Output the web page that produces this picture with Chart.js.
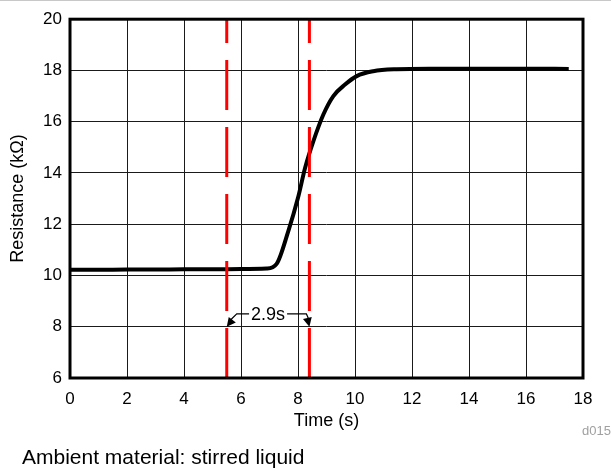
<!DOCTYPE html>
<html>
<head>
<meta charset="utf-8">
<title>Resistance vs time</title>
<script src="https://cdn.jsdelivr.net/npm/chart.js@4.4.0/dist/chart.umd.min.js"></script>
<style>
    body{
        margin: 0;
        background-color: #ffffff;
        font-family: "Liberation Sans", Arial, sans-serif;
    }
    #wrap{
        position: relative;
        width: 611px;
        height: 471px;
        border-top: 1px solid #c8c8c8;
        box-sizing: border-box;
    }
    #myChart1{
        position: absolute;
        left: 0;
        top: 0;
    }
    #caption{
        position: absolute;
        left: 22px;
        top: 444px;
        font-size: 21px;
        line-height: 24px;
        color: #000;
    }
    #figid{
        position: absolute;
        left: 582px;
        top: 422px;
        font-size: 13px;
        line-height: 16px;
        color: #a0a0a0;
    }
</style>
</head>
<body>
<div id="wrap">
    <canvas id="myChart1" width="611" height="470"></canvas>
    <div id="figid">d015</div>
    <div id="caption">Ambient material: stirred liquid</div>
</div>

<script>
    // sensor response
    const timeSec = [0, 1, 2, 3, 4, 5, 6, 6.9, 7.25, 7.66, 8.0, 8.25, 8.54, 8.89, 9.24, 9.65, 10.06, 10.64, 11.46, 12.6, 14, 16, 17.5]
    const resistance = [10.22, 10.22, 10.23, 10.23, 10.24, 10.24, 10.25, 10.27, 10.45, 11.73, 13.03, 14.2, 15.24, 16.28, 17.0, 17.45, 17.78, 17.97, 18.05, 18.07, 18.07, 18.07, 18.06]

    // red markers and the response time between them
    const markerTimes = [5.5, 8.4]
    const markerLabel = '2.9s'
    const markerLevel = 8.5
    const arrowTipLevel = 8

    const xTicks = [0, 2, 4, 6, 8, 10, 12, 14, 16, 18]
    const yTicks = [6, 8, 10, 12, 14, 16, 18, 20]

    const FONT = '"Liberation Sans", Arial, sans-serif'

    const curvePoints = timeSec.map(function(t, i){ return {x: t, y: resistance[i]} })

    function markerLine(t){
        return {
            data: [{x: t, y: yTicks[0]}, {x: t, y: yTicks[yTicks.length - 1]}],
            borderColor: '#ff0000',
            borderWidth: 3,
            borderDash: [50, 17],
            pointRadius: 0,
            fill: false
        }
    }

    function arrowHead(ctx, fromX, fromY, toX, toY){
        const ang = Math.atan2(toY - fromY, toX - fromX)
        const len = 9, half = 4.5
        ctx.beginPath()
        ctx.moveTo(toX, toY)
        ctx.lineTo(toX - len * Math.cos(ang) + half * Math.sin(ang), toY - len * Math.sin(ang) - half * Math.cos(ang))
        ctx.lineTo(toX - len * Math.cos(ang) - half * Math.sin(ang), toY - len * Math.sin(ang) + half * Math.cos(ang))
        ctx.closePath()
        ctx.fill()
    }

    const frameAndNote = {
        id: 'frameAndNote',
        afterDatasetsDraw(chart){
            const ctx = chart.ctx
            const a = chart.chartArea
            const xs = chart.scales.x, ys = chart.scales.y

            // response-time annotation
            const xl = xs.getPixelForValue(markerTimes[0])
            const xr = xs.getPixelForValue(markerTimes[1])
            const yb = ys.getPixelForValue(markerLevel)
            const yt = ys.getPixelForValue(arrowTipLevel)
            const xm = (xl + xr) / 2

            ctx.save()
            ctx.font = '18px ' + FONT
            const w = ctx.measureText(markerLabel).width
            ctx.fillStyle = '#ffffff'
            ctx.fillRect(xm - w / 2 - 2, yb - 10, w + 4, 20)
            ctx.fillStyle = '#000000'
            ctx.textAlign = 'center'
            ctx.textBaseline = 'middle'
            ctx.fillText(markerLabel, xm, yb + 1)

            ctx.strokeStyle = '#000000'
            ctx.lineWidth = 1.2
            ctx.beginPath()
            ctx.moveTo(xm - w / 2 - 2, yb)
            ctx.lineTo(xl + 10, yb)
            ctx.lineTo(xl + 3, yt - 6)
            ctx.moveTo(xm + w / 2 + 2, yb)
            ctx.lineTo(xr - 3, yb)
            ctx.lineTo(xr, yt - 6)
            ctx.stroke()
            arrowHead(ctx, xl + 10, yb, xl, yt)
            arrowHead(ctx, xr - 3, yb, xr, yt)

            // heavy frame round the plot
            ctx.lineWidth = 3
            ctx.strokeRect(a.left, a.top, a.right - a.left, a.bottom - a.top)
            ctx.restore()
        }
    }

    const ctx1 = document.getElementById('myChart1').getContext('2d')
    const mychart = new Chart(ctx1, {
        type: 'line',
        data: {
            datasets: [
                markerLine(markerTimes[0]),
                markerLine(markerTimes[1]),
                {
                    data: curvePoints,
                    borderColor: '#000000',
                    borderWidth: 4,
                    pointRadius: 0,
                    cubicInterpolationMode: 'monotone',
                    fill: false
                }
            ]
        },
        options: {
            responsive: false,
            animation: false,
            layout: {
                padding: {left: 0, top: 17, right: 28, bottom: 33}
            },
            plugins: {
                legend: {display: false},
                tooltip: {enabled: false}
            },
            scales: {
                x: {
                    type: 'linear',
                    min: xTicks[0],
                    max: xTicks[xTicks.length - 1],
                    afterBuildTicks: function(scale){ scale.ticks = xTicks.map(function(v){ return {value: v} }) },
                    afterFit: function(scale){ scale.height = 60 },
                    grid: {color: '#1a1a1a', lineWidth: 1, drawTicks: false},
                    border: {display: false},
                    ticks: {color: '#000', padding: 11, font: {family: FONT, size: 17}},
                    title: {
                        display: true,
                        text: 'Time (s)',
                        color: '#000',
                        font: {family: FONT, size: 18},
                        padding: {top: 0, bottom: 6}
                    }
                },
                y: {
                    type: 'linear',
                    min: yTicks[0],
                    max: yTicks[yTicks.length - 1],
                    afterBuildTicks: function(scale){ scale.ticks = yTicks.map(function(v){ return {value: v} }) },
                    afterFit: function(scale){ scale.width = 70 },
                    grid: {color: '#1a1a1a', lineWidth: 1, drawTicks: false},
                    border: {display: false},
                    ticks: {color: '#000', padding: 8, font: {family: FONT, size: 17}},
                    title: {
                        display: true,
                        text: 'Resistance (kΩ)',
                        color: '#000',
                        font: {family: FONT, size: 18},
                        padding: {top: 7, bottom: 0}
                    }
                }
            }
        },
        plugins: [frameAndNote]
    })
</script>
</body>
</html>
